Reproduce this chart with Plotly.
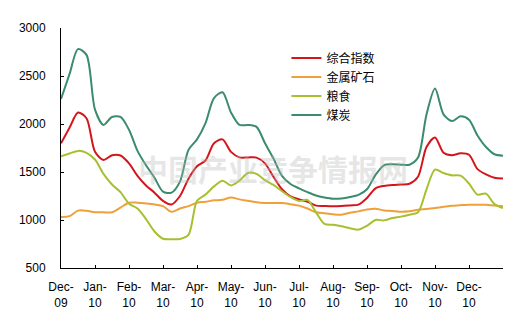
import plotly.graph_objects as go

# weekly positions, in month units from Dec-09 (0) to end of Dec-10 (13)
x_pos = [k * 0.25 for k in range(53)]

month_labels = ["Dec-<br>09", "Jan-<br>10", "Feb-<br>10", "Mar-<br>10", "Apr-<br>10",
                "May-<br>10", "Jun-<br>10", "Jul-<br>10", "Aug-<br>10", "Sep-<br>10",
                "Oct-<br>10", "Nov-<br>10", "Dec-<br>10"]
month_ticks = list(range(13))

composite = [1800, 1960, 2120, 2060, 1710, 1625, 1675, 1672, 1590, 1460,
             1360, 1285, 1200, 1162, 1250, 1430, 1560, 1620, 1800, 1840,
             1710, 1652, 1652, 1650, 1590, 1450, 1320, 1245, 1215, 1190,
             1150, 1145, 1142, 1145, 1152, 1160, 1230, 1330, 1355, 1365,
             1370, 1378, 1450, 1760, 1860, 1700, 1675, 1695, 1680, 1530,
             1475, 1440, 1433]

metal_ore = [1031, 1040, 1098, 1096, 1082, 1080, 1080, 1130, 1180, 1180,
             1172, 1162, 1145, 1085, 1120, 1145, 1180, 1190, 1205, 1210,
             1235, 1215, 1200, 1185, 1178, 1177, 1177, 1165, 1150, 1120,
             1080, 1070, 1060, 1055, 1075, 1090, 1110, 1118, 1100, 1095,
             1085, 1090, 1107, 1115, 1125, 1137, 1149, 1155, 1159, 1159,
             1159, 1150, 1142]

grain = [1663, 1692, 1720, 1700, 1630, 1480, 1370, 1290, 1170, 1120,
         1010, 880, 805, 800, 802, 845, 1200, 1265, 1350, 1410,
         1360, 1410, 1490, 1480, 1415, 1365, 1300, 1240, 1198, 1210,
         1080, 960, 950, 934, 915, 900, 940, 1000, 996, 1020,
         1035, 1055, 1080, 1320, 1525, 1490, 1465, 1462, 1380, 1265,
         1275, 1165, 1125]

coal = [2260, 2520, 2780, 2720, 2150, 1990, 2073, 2073, 1940, 1720,
        1570, 1440, 1295, 1285, 1400, 1730, 1840, 2010, 2270, 2330,
        2120, 1990, 1990, 1970, 1800, 1640, 1460, 1375, 1330, 1290,
        1255, 1235, 1222, 1225, 1240, 1262, 1320, 1470, 1570, 1580,
        1576, 1576, 1650, 2100, 2370, 2100, 2030, 2080, 2045, 1880,
        1760, 1685, 1670]

series = [
    ("综合指数", composite, "#d4161c"),
    ("金属矿石", metal_ore, "#f0a03a"),
    ("粮食", grain, "#a6c130"),
    ("煤炭", coal, "#3a8c6c"),
]

fig = go.Figure()
for name, vals, color in series:
    fig.add_trace(go.Scatter(
        x=x_pos, y=vals, name=name, mode="lines",
        line=dict(color=color, width=2, shape="spline", smoothing=0.8),
    ))

fig.add_annotation(
    text="<b>中国产业竞争情报网</b>", x=0.48, y=0.415, xref="paper", yref="paper",
    showarrow=False, font=dict(family="Noto Sans CJK SC", size=30, color="rgba(185,185,185,0.35)"),
)

fig.update_layout(
    width=526, height=333,
    margin=dict(l=61, r=23, t=28, b=65),
    paper_bgcolor="white", plot_bgcolor="white",
    font=dict(family="Liberation Sans, Arial", size=12, color="black"),
    showlegend=True,
    legend=dict(
        x=0.51, y=0.935, xanchor="left", yanchor="top",
        bgcolor="rgba(0,0,0,0)",
        font=dict(family="Noto Sans CJK SC", size=12, color="black"),
        tracegroupgap=0, itemwidth=30,
    ),
    xaxis=dict(
        range=[0, 13], tickmode="array", tickvals=month_ticks, ticktext=month_labels,
        showgrid=False, zeroline=False, showline=True, linecolor="black", linewidth=1,
        ticks="inside", ticklen=3, tickcolor="black",
        tickfont=dict(size=12), ticklabelstandoff=8,
    ),
    yaxis=dict(
        range=[500, 3000], tickvals=[500, 1000, 1500, 2000, 2500, 3000],
        showgrid=False, zeroline=False, showline=True, linecolor="black", linewidth=1,
        ticks="inside", ticklen=3, tickcolor="black",
        tickfont=dict(size=12), ticklabelstandoff=12,
    ),
)

fig.write_html(
    "out.html",
    config={"displayModeBar": False},
    post_script="document.body.style.margin='0px';document.body.style.overflow='hidden';",
)
